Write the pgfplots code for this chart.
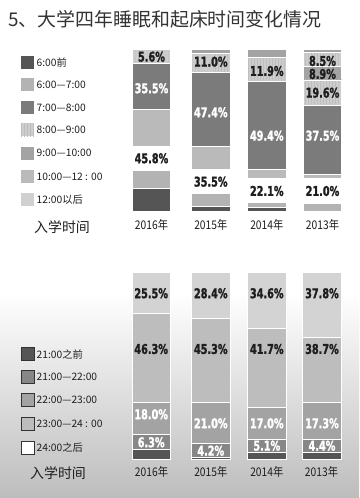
\documentclass[border=0pt]{standalone}
\usepackage{pgfplots}
\pgfplotsset{compat=1.18}
\usetikzlibrary{patterns}
\usepackage{fontspec}
\setmainfont{Noto Sans CJK SC}
\newfontfamily\cjkc{Noto Sans CJK SC}[FakeStretch=0.86]
\newfontfamily\numfont{DejaVu Sans}[FakeStretch=0.72, BoldFeatures={FakeBold=1.5}]
\definecolor{tA}{HTML}{555555}
\definecolor{tB}{HTML}{B3B3B3}
\definecolor{tC}{HTML}{7B7B7B}
\definecolor{tD}{HTML}{CDCDCD}
\definecolor{tE}{HTML}{A3A3A3}
\definecolor{tF}{HTML}{BABABA}
\definecolor{tG}{HTML}{D0D0D0}
\definecolor{bA}{HTML}{555555}
\definecolor{bB}{HTML}{878787}
\definecolor{bC}{HTML}{A3A3A3}
\definecolor{bD}{HTML}{BDBDBD}
\definecolor{bE}{HTML}{D3D3D3}
\definecolor{txt}{HTML}{1E1E1E}
\definecolor{bgG}{HTML}{BDBDBD}
\definecolor{strc}{HTML}{BEBEBE}
\pgfplotsset{
  colax/.style={hide axis, clip=false, x=1bp, xmin=0, xmax=359, ymin=0, ymax=100,
    ybar stacked, bar width=38.5, anchor=south west, scale only axis},
  topax/.style={colax, y=1.624bp, at={(0bp,286.3bp)}},
  botax/.style={colax, y=1.87bp, at={(0bp,39bp)}},
  seg/.style={fill=#1, draw=white, line width=0.8bp},
  gap/.style={fill=white, draw=white, line width=0.8bp},
  str/.style={fill=tD, draw=white, line width=0.8bp, postaction={pattern=vertical lines, pattern color=strc}},
}
\tikzset{
  lab/.style={font=\numfont\bfseries\fontsize{13.5}{13.5}\selectfont, text=txt, inner sep=0pt},
  wlab/.style={lab, text=white},
  leg/.style={anchor=west, font=\fontsize{10.3}{10.3}\selectfont, text=txt, inner sep=0pt},
  yr/.style={font=\cjkc\fontsize{12}{12}\selectfont, text=txt, inner sep=0pt},
}
\begin{document}
\begin{tikzpicture}[x=1bp,y=1bp]
\useasboundingbox (0,0) rectangle (359,498);
\fill[white] (0,0) rectangle (359,498);
\shade[top color=white, bottom color=bgG] (0,0) rectangle (359,205);
% title
\node[anchor=west, inner sep=0pt, text=black!80, font=\fontsize{19}{19}\selectfont] at (8,479) {5、大学四年睡眠和起床时间变化情况};

% ---------- top chart: getting-up time ----------
% 2016
\begin{axis}[topax]
\addplot[seg=tA] coordinates {(151.5,14.3)};
\addplot[seg=tB] coordinates {(151.5,11.4)};
\addplot[gap] coordinates {(151.5,14.8)};
\addplot[seg=tF] coordinates {(151.5,22.4)};
\addplot[seg=tC] coordinates {(151.5,28.5)};
\addplot[str] coordinates {(151.5,8.6)};
\end{axis}
% 2015
\begin{axis}[topax]
\addplot[seg=tA] coordinates {(210.8,3.5)};
\addplot[seg=tB] coordinates {(210.8,7.8)};
\addplot[gap] coordinates {(210.8,14.8)};
\addplot[seg=tF] coordinates {(210.8,14.2)};
\addplot[seg=tC] coordinates {(210.8,45.5)};
\addplot[str] coordinates {(210.8,11.6)};
\addplot[seg=tE] coordinates {(210.8,2.6)};
\end{axis}
% 2014
\begin{axis}[topax]
\addplot[seg=tA] coordinates {(266.8,2.5)};
\addplot[seg=tB] coordinates {(266.8,3.3)};
\addplot[gap] coordinates {(266.8,14.8)};
\addplot[seg=tF] coordinates {(266.8,5.7)};
\addplot[seg=tC] coordinates {(266.8,54.0)};
\addplot[str] coordinates {(266.8,14.5)};
\addplot[seg=tE] coordinates {(266.8,5.2)};
\end{axis}
% 2013
\begin{axis}[topax]
\addplot[seg=tB] coordinates {(322.5,5.2)};
\addplot[gap] coordinates {(322.5,15.4)};
\addplot[seg=tF] coordinates {(322.5,2.2)};
\addplot[seg=tC] coordinates {(322.5,42.9)};
\addplot[str] coordinates {(322.5,15.4)};
\addplot[seg=tE] coordinates {(322.5,8.1)};
\addplot[str] coordinates {(322.5,9.1)};
\addplot[seg=tE] coordinates {(322.5,1.7)};
\end{axis}

% top labels
\node[lab]  at (151.5,441.3) {5.6\%};
\node[wlab] at (151.5,409.7) {35.5\%};
\node[lab]  at (151.5,339.7) {45.8\%};
\node[lab]  at (210.8,436.3) {11.0\%};
\node[wlab] at (210.8,385.7) {47.4\%};
\node[lab]  at (210.8,316.3) {35.5\%};
\node[lab]  at (266.8,427.0) {11.9\%};
\node[wlab] at (266.8,362.3) {49.4\%};
\node[lab]  at (266.8,307.0) {22.1\%};
\node[lab]  at (322.5,437.0) {8.5\%};
\node[lab]  at (322.5,424.0) {8.9\%};
\node[lab]  at (322.5,405.3) {19.6\%};
\node[wlab] at (322.5,362.3) {37.5\%};
\node[lab]  at (322.5,307.0) {21.0\%};

% top legend
\fill[tA] (21,428.8) rectangle (34,441.8);
\fill[tB] (21,406.5) rectangle (34,419.5);
\fill[tC] (21,383.8) rectangle (34,396.8);
\fill[tD] (21,361.5) rectangle (34,374.5);
\fill[pattern=vertical lines, pattern color=strc] (21,361.5) rectangle (34,374.5);
\fill[tE] (21,338.2) rectangle (34,351.2);
\fill[tF] (21,314.8) rectangle (34,327.8);
\fill[tG] (21,292.2) rectangle (34,305.2);
\node[leg] at (36.5,435.3) {6:00前};
\node[leg] at (36.5,413.0) {6:00—7:00};
\node[leg] at (36.5,390.3) {7:00—8:00};
\node[leg] at (36.5,368.0) {8:00—9:00};
\node[leg] at (36.5,344.7) {9:00—10:00};
\node[leg] at (36.5,321.3) {10:00—12 : 00};
\node[leg] at (36.5,298.7) {12:00以后};
\node[inner sep=0pt, text=txt, font=\fontsize{14}{14}\selectfont] at (62,271.3) {入学时间};
\node[yr] at (151.5,273) {2016年};
\node[yr] at (210.8,273) {2015年};
\node[yr] at (266.8,273) {2014年};
\node[yr] at (322.5,273) {2013年};

% ---------- bottom chart: bedtime ----------
\begin{axis}[botax]
\addplot[seg=bA] coordinates {(151.2,5.1)};
\addplot[seg=bB] coordinates {(151.2,8.0)};
\addplot[seg=bC] coordinates {(151.2,17.1)};
\addplot[seg=bD] coordinates {(151.2,47.5)};
\addplot[seg=bE] coordinates {(151.2,22.3)};
\end{axis}
\begin{axis}[botax]
\addplot[seg=bA] coordinates {(210.8,0.8)};
\addplot[seg=bB] coordinates {(210.8,7.6)};
\addplot[seg=bC] coordinates {(210.8,21.8)};
\addplot[seg=bD] coordinates {(210.8,44.8)};
\addplot[seg=bE] coordinates {(210.8,25.0)};
\end{axis}
\begin{axis}[botax]
\addplot[seg=bA] coordinates {(266.8,3.4)};
\addplot[seg=bB] coordinates {(266.8,6.9)};
\addplot[seg=bC] coordinates {(266.8,17.5)};
\addplot[seg=bD] coordinates {(266.8,41.9)};
\addplot[seg=bE] coordinates {(266.8,30.3)};
\end{axis}
\begin{axis}[botax]
\addplot[seg=bA] coordinates {(322,3.4)};
\addplot[seg=bB] coordinates {(322,6.9)};
\addplot[seg=bC] coordinates {(322,20.2)};
\addplot[seg=bD] coordinates {(322,34.5)};
\addplot[seg=bE] coordinates {(322,35.0)};
\end{axis}

% bottom labels
\node[lab]  at (151.2,204.7) {25.5\%};
\node[lab]  at (151.2,149.0) {46.3\%};
\node[wlab] at (151.2,83.7) {18.0\%};
\node[wlab] at (151.2,55.7) {6.3\%};
\node[lab]  at (210.8,204.7) {28.4\%};
\node[lab]  at (210.8,149.0) {45.3\%};
\node[wlab] at (210.8,74.7) {21.0\%};
\node[wlab] at (210.8,47.3) {4.2\%};
\node[lab]  at (266.8,204.7) {34.6\%};
\node[lab]  at (266.8,149.0) {41.7\%};
\node[wlab] at (266.8,74.7) {17.0\%};
\node[wlab] at (266.8,52.3) {5.1\%};
\node[lab]  at (322,204.7) {37.8\%};
\node[lab]  at (322,149.0) {38.7\%};
\node[wlab] at (322,74.7) {17.3\%};
\node[wlab] at (322,52.3) {4.4\%};

% bottom legend
\filldraw[fill=bA, draw=black!80, line width=0.7bp] (21.5,137.2) rectangle (34.5,150.2);
\filldraw[fill=bB, draw=black!80, line width=0.7bp] (21.5,114.2) rectangle (34.5,127.2);
\filldraw[fill=bC, draw=black!80, line width=0.7bp] (21.5,91.5) rectangle (34.5,104.5);
\filldraw[fill=bD, draw=black!80, line width=0.7bp] (21.5,67.5) rectangle (34.5,80.5);
\filldraw[fill=white, draw=black!80, line width=0.7bp] (21.5,43.8) rectangle (34.5,56.8);
\node[leg] at (36.5,143.7) {21:00之前};
\node[leg] at (36.5,120.7) {21:00—22:00};
\node[leg] at (36.5,98.0) {22:00—23:00};
\node[leg] at (36.5,74.0) {23:00—24 : 00};
\node[leg] at (36.5,50.3) {24:00之后};
\node[inner sep=0pt, text=txt, font=\fontsize{14}{14}\selectfont] at (58,24.7) {入学时间};
\node[yr] at (151.5,25.7) {2016年};
\node[yr] at (210.8,25.7) {2015年};
\node[yr] at (266.8,25.7) {2014年};
\node[yr] at (321.5,25.7) {2013年};
\end{tikzpicture}
\end{document}
